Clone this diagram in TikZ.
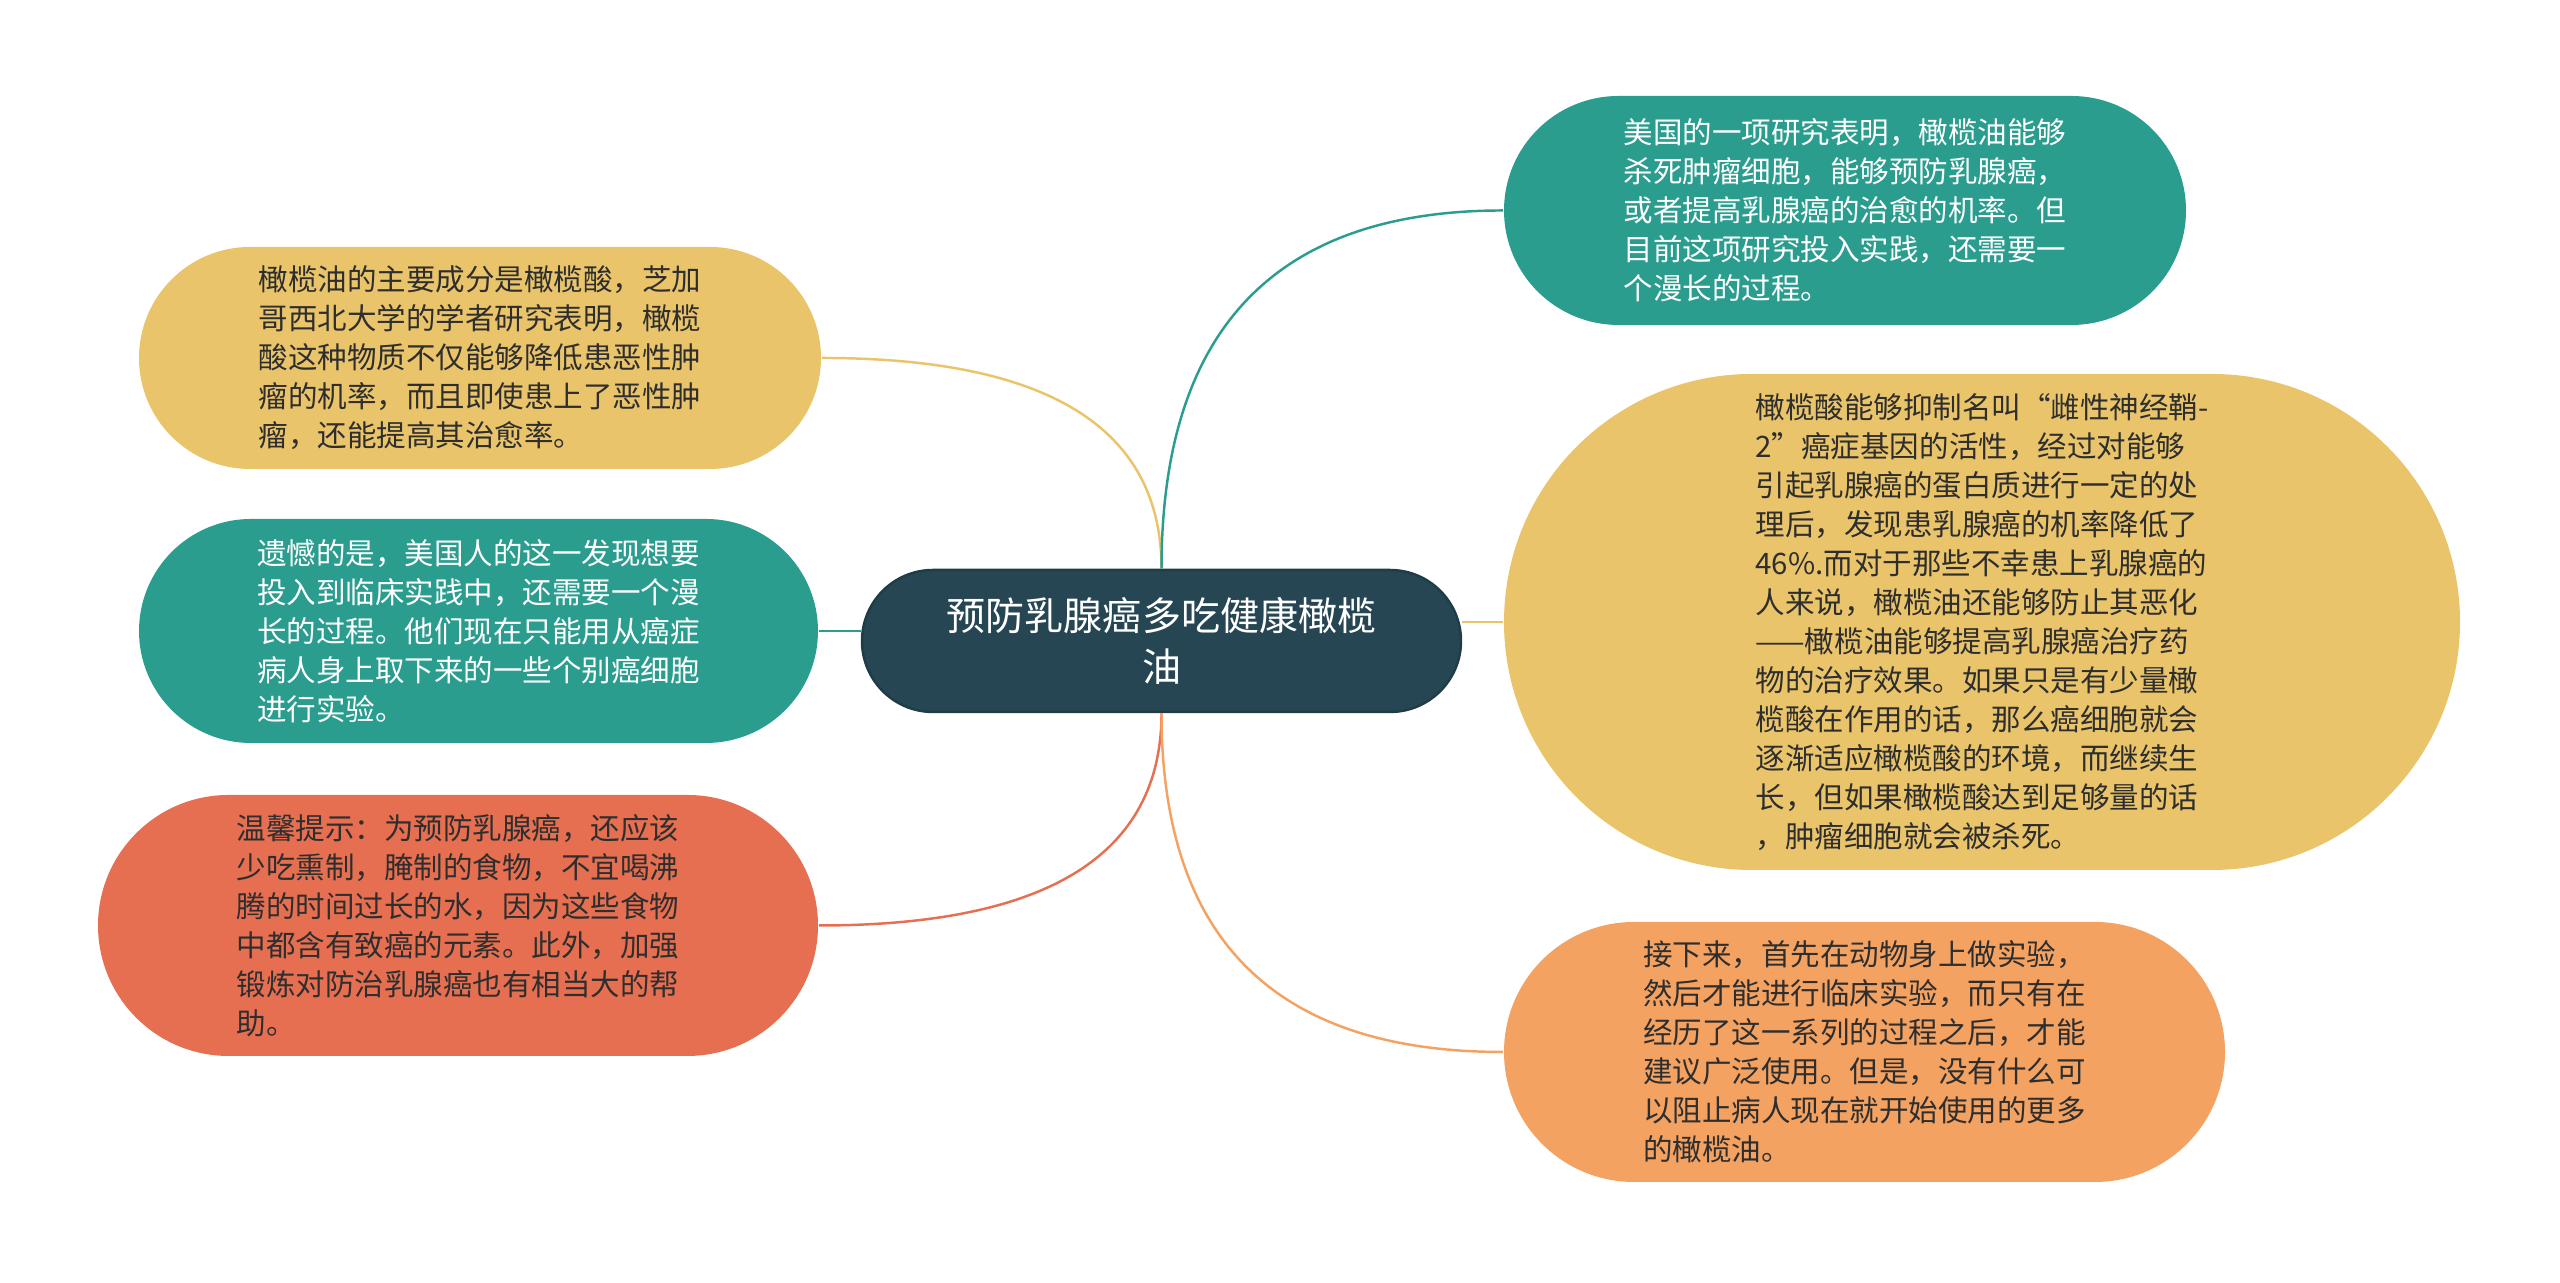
\documentclass[tikz,border=0pt]{standalone}
\usepackage{fontspec}
\newfontfamily\cjk{Noto Sans CJK SC}
\usepackage{tikz}
\usetikzlibrary{shapes.misc,calc}

\definecolor{RootBlue}{HTML}{264653}
\definecolor{LeafTeal}{HTML}{2A9D8F}
\definecolor{LeafYellow}{HTML}{E9C46A}
\definecolor{LeafOrange}{HTML}{F4A261}
\definecolor{LeafRed}{HTML}{E76F51}
\definecolor{InkDark}{HTML}{2E2E2E}

\begin{document}
\begin{tikzpicture}[line width=0.7pt,
      every node/.append style={rounded rectangle,inner sep=0pt,font=\cjk\fontsize{8.4pt}{11.1pt}\selectfont},
      leaf/.style={align=left,text=InkDark},
      leaflight/.style={align=left,text=white}]
    \useasboundingbox (0,0) rectangle (25.6,12.83);
    \node (root) [fill=RootBlue,draw=RootBlue!85!black,text=white,align=center,minimum width=5.99cm,minimum height=1.42cm,
      font=\cjk\fontsize{11.1pt}{14.4pt}\selectfont] at (11.615,6.42) {预防乳腺癌多吃健康橄榄\\油};
    % left side
    \node (acid) [leaf,fill=LeafYellow,minimum width=6.82cm,minimum height=2.22cm] at (4.80,9.25)
      {橄榄油的主要成分是橄榄酸，芝加\\哥西北大学的学者研究表明，橄榄\\酸这种物质不仅能够降低患恶性肿\\瘤的机率，而且即使患上了恶性肿\\瘤，还能提高其治愈率。};
    \node (regret) [leaflight,fill=LeafTeal,minimum width=6.79cm,minimum height=2.24cm] at (4.785,6.52)
      {遗憾的是，美国人的这一发现想要\\投入到临床实践中，还需要一个漫\\长的过程。他们现在只能用从癌症\\病人身上取下来的一些个别癌细胞\\进行实验。};
    \node (tip) [leaf,fill=LeafRed,minimum width=7.20cm,minimum height=2.61cm] at (4.58,3.575)
      {温馨提示：为预防乳腺癌，还应该\\少吃熏制，腌制的食物，不宜喝沸\\腾的时间过长的水，因为这些食物\\中都含有致癌的元素。此外，加强\\锻炼对防治乳腺癌也有相当大的帮\\助。};
    % right side
    \node (study) [leaflight,fill=LeafTeal,minimum width=6.82cm,minimum height=2.29cm] at (18.45,10.725)
      {美国的一项研究表明，橄榄油能够\\杀死肿瘤细胞，能够预防乳腺癌，\\或者提高乳腺癌的治愈的机率。但\\目前这项研究投入实践，还需要一\\个漫长的过程。};
    \node (gene) [leaf,fill=LeafYellow,minimum width=9.56cm,minimum height=4.96cm] at (19.82,6.61)
      {橄榄酸能够抑制名叫“雌性神经鞘-\\2”癌症基因的活性，经过对能够\\引起乳腺癌的蛋白质进行一定的处\\理后，发现患乳腺癌的机率降低了\\46\%.而对于那些不幸患上乳腺癌的\\人来说，橄榄油还能够防止其恶化\\——橄榄油能够提高乳腺癌治疗药\\物的治疗效果。如果只是有少量橄\\榄酸在作用的话，那么癌细胞就会\\逐渐适应橄榄酸的环境，而继续生\\长，但如果橄榄酸达到足够量的话\\，肿瘤细胞就会被杀死。};
    \node (trial) [leaf,fill=LeafOrange,minimum width=7.21cm,minimum height=2.60cm] at (18.645,2.31)
      {接下来，首先在动物身上做实验，\\然后才能进行临床实验，而只有在\\经历了这一系列的过程之后，才能\\建议广泛使用。但是，没有什么可\\以阻止病人现在就开始使用的更多\\的橄榄油。};

    \draw [LeafYellow] (root.north) .. controls ($(root.north)!0.667!(root.north |- acid.east)$)
      and ($(acid.east)!0.667!(root.north |- acid.east)$) .. (acid.east);
    \draw [LeafTeal] (regret.east) -- (regret.east -| root.west);
    \draw [LeafRed] (root.south) .. controls ($(root.south)!0.667!(root.south |- tip.east)$)
      and ($(tip.east)!0.667!(root.south |- tip.east)$) .. (tip.east);
    \draw [LeafTeal] (root.north) .. controls ($(root.north)!0.667!(root.north |- study.west)$)
      and ($(study.west)!0.667!(root.north |- study.west)$) .. (study.west);
    \draw [LeafYellow] (gene.west -| root.east) -- (gene.west);
    \draw [LeafOrange] (root.south) .. controls ($(root.south)!0.667!(root.south |- trial.west)$)
      and ($(trial.west)!0.667!(root.south |- trial.west)$) .. (trial.west);
  \end{tikzpicture}
\end{document}
